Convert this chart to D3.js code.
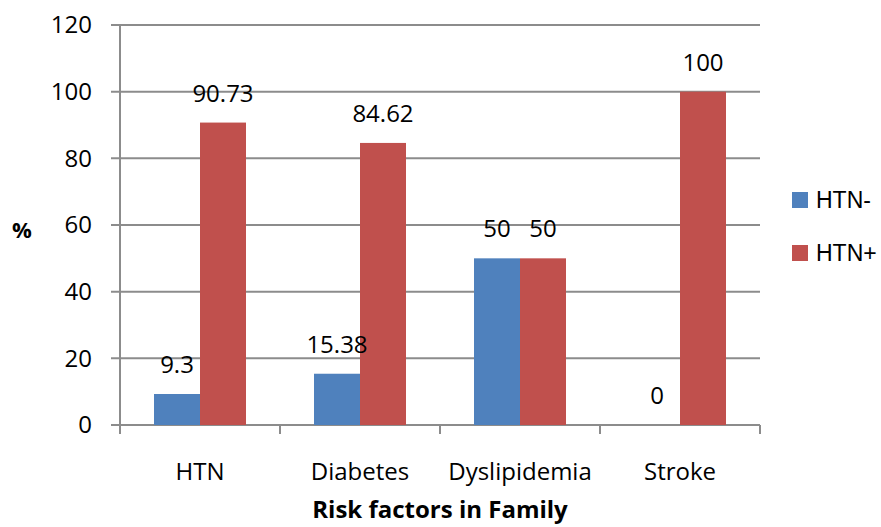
<!DOCTYPE html>
<html>
<head>
<meta charset="utf-8">
<script src="https://cdn.jsdelivr.net/npm/d3@7"></script>
<style>
  body { margin: 0; background: #fff; }
  svg { display: block; }
  text { font-family: "Open Sans", "Liberation Sans", sans-serif; fill: #000; }
</style>
</head>
<body>
<svg id="chart"></svg>
<script>
// chart data
const categories = ['HTN', 'Diabetes', 'Dyslipidemia', 'Stroke'];
const seriesNames = ['HTN-', 'HTN+'];
const htnNeg = [9.3, 15.38, 50, 0];
const htnPos = [90.73, 84.62, 50, 100];
const yTicks = [0, 20, 40, 60, 80, 100, 120];
const colors = ['#4F81BD', '#C0504D'];

const W = 881, H = 527;
const margin = {top: 25, right: 121, bottom: 102, left: 120};
const iw = W - margin.left - margin.right, ih = H - margin.top - margin.bottom;

const svg = d3.select('#chart').attr('width', W).attr('height', H);
const g = svg.append('g').attr('transform', `translate(${margin.left},${margin.top})`);

const x = d3.scaleBand().domain(categories).range([0, iw]).paddingInner(0).paddingOuter(0);
const xs = d3.scaleBand().domain(seriesNames).range([34, x.bandwidth() - 34]);
const y = d3.scaleLinear().domain([0, 120]).range([ih, 0]);

const grey = '#8c8c8c';

// gridlines + y ticks
g.append('g').selectAll('line').data(yTicks).join('line')
  .attr('x1', -9).attr('x2', iw)
  .attr('y1', d => y(d)).attr('y2', d => y(d))
  .attr('stroke', grey).attr('stroke-width', 2);

g.append('g').selectAll('text').data(yTicks).join('text')
  .attr('x', -28).attr('y', d => y(d)).attr('dy', '0.35em')
  .attr('text-anchor', 'end').style('font-size', '24px')
  .text(d => d);

// bars
const rows = categories.map((c, i) => ({cat: c, vals: [htnNeg[i], htnPos[i]]}));
const grp = g.append('g').selectAll('g').data(rows).join('g')
  .attr('transform', d => `translate(${x(d.cat)},0)`);

grp.selectAll('rect').data(d => d.vals.map((v, j) => ({s: seriesNames[j], v, j}))).join('rect')
  .attr('x', d => xs(d.s)).attr('width', xs.bandwidth())
  .attr('y', d => y(d.v)).attr('height', d => ih - y(d.v))
  .attr('fill', d => colors[d.j]);

grp.selectAll('text').data(d => d.vals.map((v, j) => ({s: seriesNames[j], v, j}))).join('text')
  .attr('x', d => xs(d.s) + xs.bandwidth() / 2)
  .attr('y', d => y(d.v) - 21)
  .attr('text-anchor', 'middle').style('font-size', '24px')
  .text(d => d.v);

// axes lines
g.append('line').attr('x1', 0).attr('x2', 0).attr('y1', 0).attr('y2', ih)
  .attr('stroke', grey).attr('stroke-width', 2);
const bounds = d3.range(categories.length + 1).map(i => i * x.bandwidth());
g.append('g').selectAll('line').data(bounds).join('line')
  .attr('x1', d => d).attr('x2', d => d).attr('y1', ih).attr('y2', ih + 9)
  .attr('stroke', grey).attr('stroke-width', 2);

// category labels
g.append('g').selectAll('text').data(categories).join('text')
  .attr('x', d => x(d) + x.bandwidth() / 2).attr('y', ih + 55)
  .attr('text-anchor', 'middle').style('font-size', '24px')
  .text(d => d);

// axis titles
svg.append('text').attr('x', margin.left + iw / 2).attr('y', H - 9)
  .attr('text-anchor', 'middle').style('font-size', '24px').style('font-weight', 'bold')
  .text('Risk factors in Family');
svg.append('text').attr('x', 22).attr('y', 230).attr('dy', '0.35em')
  .attr('text-anchor', 'middle').style('font-size', '22px').style('font-weight', 'bold')
  .text('%');

// legend
const leg = svg.append('g').attr('transform', 'translate(792,192)');
const li = leg.selectAll('g').data(seriesNames).join('g')
  .attr('transform', (d, i) => `translate(0,${i * 53})`);
li.append('rect').attr('width', 16).attr('height', 16).attr('fill', (d, i) => colors[i]);
li.append('text').attr('x', 24).attr('y', 8).attr('dy', '0.36em')
  .style('font-family', '"Liberation Sans", Arial, sans-serif').style('font-size', '23px')
  .text(d => d);
</script>
</body>
</html>
